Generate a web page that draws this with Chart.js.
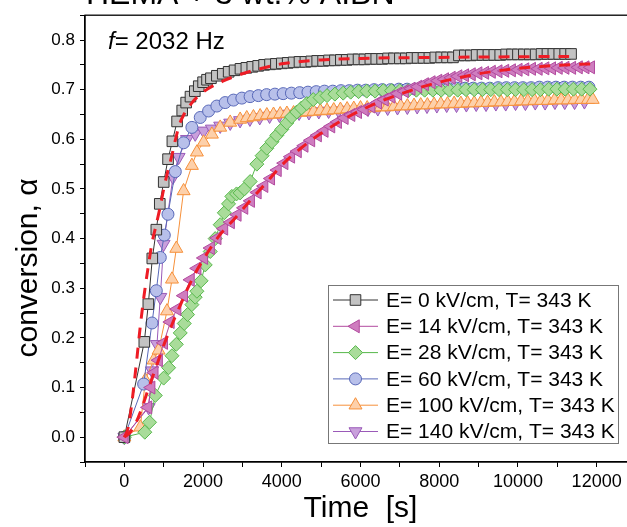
<!DOCTYPE html>
<html>
<head>
<meta charset="utf-8">
<script src="https://cdn.jsdelivr.net/npm/chart.js@4.4.0/dist/chart.umd.min.js"></script>
<style>
  html, body { margin: 0; padding: 0; background: #fff; overflow: hidden; }
  #wrap { width: 650px; height: 527px; }
</style>
</head>
<body>
<div id="wrap"><canvas id="conv" width="650" height="527"></canvas></div>
<script>
// E = 0 kV/cm
const tE0 = [0, 507, 609, 710, 812, 900, 1000, 1110, 1220, 1340, 1470, 1570, 1680, 1790, 1890, 2000, 2100,
  2200, 2350, 2500, 2650, 2800, 2950, 3100, 3250, 3400, 3550, 3700, 3850, 4000, 4150, 4300, 4450, 4600, 4750,
  4900, 5050, 5200, 5350, 5500, 5650, 5800, 5950, 6100, 6250, 6400, 6550, 6700, 6850, 7000, 7150, 7300, 7450,
  7600, 7750, 7900, 8050, 8200, 8350, 8500, 8650, 8800, 8950, 9100, 9250, 9400, 9550, 9700, 9850, 10000,
  10150, 10300, 10450, 10600, 10750, 10900, 11050, 11200, 11350];
const aE0 = [0, 0.192, 0.268, 0.36, 0.418, 0.47, 0.514, 0.56, 0.596, 0.636, 0.658, 0.674, 0.686, 0.697, 0.707, 0.715, 0.72,
  0.723, 0.728, 0.732, 0.736, 0.739, 0.742, 0.744, 0.746, 0.748, 0.750, 0.751, 0.752, 0.753, 0.754, 0.755, 0.756, 0.756, 0.757,
  0.758, 0.758, 0.759, 0.759, 0.760, 0.760, 0.761, 0.761, 0.761, 0.762, 0.762, 0.762, 0.763, 0.763, 0.763, 0.763, 0.764, 0.764,
  0.764, 0.764, 0.765, 0.765, 0.765, 0.765, 0.769, 0.769, 0.769, 0.770, 0.770, 0.770, 0.770, 0.770, 0.771, 0.771, 0.771,
  0.771, 0.771, 0.771, 0.772, 0.772, 0.772, 0.772, 0.772, 0.772];

// E = 14 kV/cm
const tE14 = [0, 600, 680, 760, 870, 1000, 1170, 1340, 1510, 1680, 1850, 2020, 2190, 2360, 2530, 2700, 2870, 3040,
  3210, 3380, 3550, 3720, 3890, 4060, 4230, 4400, 4570, 4740, 4910, 5080, 5250, 5420, 5590, 5760, 5930, 6100,
  6270, 6440, 6610, 6780, 6950, 7120, 7290, 7460, 7630, 7800, 7970, 8140, 8310, 8480, 8650, 8820, 8990, 9160,
  9330, 9500, 9670, 9840, 10010, 10180, 10350, 10520, 10690, 10860, 11030, 11200, 11370, 11540, 11710, 11850];
const aE14 = [0, 0.06, 0.10, 0.13, 0.155, 0.190, 0.232, 0.258, 0.285, 0.317, 0.340, 0.361, 0.381, 0.401, 0.420, 0.433, 0.448, 0.462,
  0.476, 0.493, 0.506, 0.521, 0.538, 0.552, 0.565, 0.576, 0.587, 0.598, 0.608, 0.617, 0.626, 0.635, 0.643, 0.649, 0.655, 0.660,
  0.666, 0.674, 0.680, 0.686, 0.692, 0.697, 0.702, 0.706, 0.711, 0.715, 0.718, 0.721, 0.724, 0.727, 0.729, 0.731, 0.733, 0.734,
  0.736, 0.737, 0.738, 0.739, 0.740, 0.741, 0.742, 0.742, 0.743, 0.743, 0.744, 0.744, 0.744, 0.745, 0.745, 0.745];

// E = 28 kV/cm
const tE28 = [0, 520, 640, 786, 998, 1125, 1210, 1320, 1420, 1522, 1606, 1716, 1800, 1843, 1950, 2055, 2182, 2308, 2435,
  2540, 2647, 2731, 2850, 2942, 3050, 3197, 3366, 3500, 3620, 3750, 3874, 4000, 4128, 4250, 4381, 4500, 4635, 4800,
  4973, 5150, 5350, 5560, 5750, 5950, 6157, 6370, 6580, 6790, 7000, 7210, 7420, 7630, 7840, 8050, 8260, 8470,
  8680, 8890, 9100, 9310, 9520, 9730, 9940, 10150, 10360, 10570, 10780, 10990, 11200, 11410, 11620, 11830];
const aE28 = [0, 0.01, 0.03, 0.084, 0.119, 0.14, 0.164, 0.187, 0.21, 0.229, 0.247, 0.267, 0.282, 0.294, 0.315, 0.347, 0.374, 0.40, 0.428,
  0.452, 0.47, 0.485, 0.49, 0.492, 0.50, 0.515, 0.55, 0.567, 0.582, 0.595, 0.608, 0.62, 0.633, 0.645, 0.655, 0.663, 0.672, 0.68,
  0.684, 0.688, 0.691, 0.693, 0.695, 0.696, 0.697, 0.697, 0.698, 0.698, 0.698, 0.698, 0.699, 0.699, 0.699, 0.699, 0.699, 0.699,
  0.700, 0.700, 0.700, 0.700, 0.700, 0.700, 0.700, 0.700, 0.700, 0.700, 0.701, 0.701, 0.701, 0.701, 0.701, 0.701];

// E = 60 kV/cm
const tE60 = [0, 490, 702, 812, 913, 1015, 1108, 1294, 1505, 1716, 1928, 2140, 2350, 2562, 2773, 2985, 3195, 3405, 3615,
  3825, 4035, 4245, 4455, 4665, 4875, 5085, 5295, 5505, 5715, 5925, 6135, 6345, 6555, 6765, 6975, 7185, 7395,
  7605, 7815, 8025, 8235, 8445, 8655, 8865, 9075, 9285, 9495, 9705, 9915, 10125, 10335, 10545, 10755, 10965,
  11175, 11385, 11595, 11805];
const aE60 = [0, 0.107, 0.23, 0.295, 0.362, 0.407, 0.449, 0.535, 0.593, 0.624, 0.644, 0.657, 0.667, 0.674, 0.679, 0.683, 0.686, 0.688, 0.690,
  0.691, 0.692, 0.693, 0.694, 0.695, 0.696, 0.697, 0.697, 0.698, 0.698, 0.699, 0.699, 0.700, 0.700, 0.700, 0.701, 0.701, 0.701,
  0.702, 0.702, 0.702, 0.702, 0.703, 0.703, 0.703, 0.703, 0.703, 0.704, 0.704, 0.704, 0.704, 0.704, 0.705, 0.705, 0.705,
  0.705, 0.705, 0.705, 0.705];

// E = 100 kV/cm
const tE100 = [0, 406, 533, 744, 870, 1083, 1210, 1320, 1505, 1716, 1843, 2013, 2224, 2435, 2689, 2942, 3110, 3280, 3450,
  3620, 3790, 3960, 4130, 4300, 4470, 4640, 4810, 4980, 5150, 5320, 5490, 5660, 5830, 6000, 6170, 6340, 6510,
  6680, 6850, 7020, 7190, 7360, 7530, 7700, 7870, 8040, 8210, 8380, 8550, 8720, 8890, 9060, 9230, 9400, 9570,
  9740, 9910, 10080, 10250, 10420, 10590, 10760, 10930, 11100, 11270, 11440, 11610, 11780, 11900];
const aE100 = [0, 0.02, 0.115, 0.155, 0.175, 0.254, 0.318, 0.38, 0.496, 0.547, 0.574, 0.594, 0.61, 0.624, 0.634, 0.640, 0.643, 0.645, 0.647,
  0.649, 0.650, 0.651, 0.652, 0.653, 0.654, 0.655, 0.656, 0.657, 0.658, 0.659, 0.660, 0.661, 0.662, 0.663, 0.663, 0.664, 0.665,
  0.665, 0.666, 0.667, 0.667, 0.668, 0.669, 0.669, 0.670, 0.671, 0.671, 0.672, 0.672, 0.673, 0.673, 0.674, 0.674, 0.675, 0.675,
  0.676, 0.676, 0.677, 0.677, 0.678, 0.678, 0.678, 0.679, 0.679, 0.679, 0.680, 0.680, 0.680, 0.680];

// E = 140 kV/cm
const tE140 = [0, 617, 702, 829, 913, 997, 1235, 1378, 1590, 1800, 2013, 2224, 2435, 2690, 2940, 3190, 3440, 3690, 3940,
  4190, 4440, 4690, 4940, 5190, 5440, 5690, 5940, 6190, 6440, 6690, 6940, 7190, 7440, 7690, 7940, 8190, 8440,
  8690, 8940, 9190, 9440, 9690, 9940, 10190, 10440, 10690, 10940, 11190, 11440, 11690];
const aE140 = [0, 0.06, 0.134, 0.187, 0.282, 0.389, 0.524, 0.564, 0.60, 0.611, 0.617, 0.621, 0.627, 0.633, 0.638, 0.641, 0.644, 0.647, 0.649,
  0.651, 0.653, 0.654, 0.656, 0.657, 0.658, 0.659, 0.660, 0.661, 0.662, 0.663, 0.664, 0.665, 0.666, 0.667, 0.668, 0.669, 0.669,
  0.670, 0.671, 0.671, 0.672, 0.672, 0.673, 0.673, 0.674, 0.674, 0.675, 0.675, 0.675, 0.676];

// red dashed fits
const tFit0 = [0, 100, 200, 300, 400, 500, 600, 700, 800, 900, 1000, 1100, 1200, 1300, 1400, 1500, 1700, 2000, 2500,
  3000, 3500, 4000, 5000, 6000, 8000, 11300];
const aFit0 = [0, 0.02, 0.075, 0.145, 0.22, 0.285, 0.34, 0.39, 0.425, 0.46, 0.50, 0.535, 0.565, 0.60, 0.63, 0.648, 0.672, 0.695, 0.717,
  0.732, 0.743, 0.752, 0.760, 0.763, 0.765, 0.767];
const tFit14 = [0, 150, 300, 450, 600, 800, 1000, 1200, 1400, 1600, 1800, 2000, 2400, 2800, 3200, 3600, 4000, 4500, 5000,
  5500, 6000, 6500, 7000, 7500, 8000, 8500, 9000, 9500, 10000, 10500, 11000, 11500, 11900];
const aFit14 = [0, 0.01, 0.03, 0.06, 0.095, 0.14, 0.185, 0.225, 0.262, 0.298, 0.33, 0.357, 0.405, 0.44, 0.477, 0.512, 0.548, 0.583, 0.612,
  0.637, 0.658, 0.676, 0.691, 0.704, 0.715, 0.724, 0.732, 0.738, 0.743, 0.746, 0.749, 0.751, 0.752];

const seriesLabels = ["E= 0 kV/cm, T= 343 K", "E= 14 kV/cm, T= 343 K", "E= 28 kV/cm, T= 343 K",
  "E= 60 kV/cm, T= 343 K", "E= 100 kV/cm, T= 343 K", "E= 140 kV/cm, T= 343 K"];
const titleText = "HEMA + 3 wt.% AIBN";
const freqText = "= 2032 Hz";
const yTitle = "conversion, \u03b1";

const FONT = "'Liberation Sans', Arial, sans-serif";

const pts = (t, a) => t.map((v, i) => ({ x: v, y: a[i] }));

function series(label, t, a, style, rot, radius, fill, edge, order) {
  return {
    label: label,
    data: pts(t, a),
    pointStyle: style,
    rotation: rot,
    pointRadius: radius,
    pointBackgroundColor: fill,
    pointBorderColor: edge,
    pointBorderWidth: 1,
    borderColor: edge,
    borderWidth: 1,
    showLine: true,
    order: order
  };
}

function fit(t, a) {
  return {
    label: "fit",
    data: pts(t, a),
    borderColor: "#ee1c25",
    borderWidth: 3,
    borderDash: [11, 9],
    pointRadius: 0,
    cubicInterpolationMode: "monotone",
    order: 0
  };
}

const datasets = [
  series(seriesLabels[0], tE0, aE0, "rect", 0, 7.5, "#c3c3c3", "#333333", 2),
  series(seriesLabels[1], tE14, aE14, "triangle", 270, 7.5, "#cf7dbf", "#b24a9f", 1),
  series(seriesLabels[2], tE28, aE28, "rectRot", 0, 7, "#a9dc9a", "#57b84b", 3),
  series(seriesLabels[3], tE60, aE60, "circle", 0, 6, "#b8c0ea", "#5868b8", 4),
  series(seriesLabels[4], tE100, aE100, "triangle", 0, 7.5, "#fdd0aa", "#f6903a", 5),
  series(seriesLabels[5], tE140, aE140, "triangle", 180, 7.5, "#c9a0dc", "#9a5ab8", 6),
  fit(tFit0, aFit0),
  fit(tFit14, aFit14)
];

function drawMarker(ctx, ds, x, y) {
  const r = ds.pointRadius;
  ctx.fillStyle = ds.pointBackgroundColor;
  ctx.strokeStyle = ds.pointBorderColor;
  ctx.lineWidth = 1;
  ctx.beginPath();
  if (ds.pointStyle === "circle") {
    ctx.arc(x, y, r, 0, Math.PI * 2);
  } else if (ds.pointStyle === "rect") {
    const s = r * Math.SQRT1_2;
    ctx.rect(x - s, y - s, 2 * s, 2 * s);
  } else if (ds.pointStyle === "rectRot") {
    ctx.moveTo(x, y - r); ctx.lineTo(x + r, y); ctx.lineTo(x, y + r); ctx.lineTo(x - r, y);
  } else {
    let rad = ds.rotation * Math.PI / 180;
    ctx.moveTo(x + Math.sin(rad) * r, y - Math.cos(rad) * r);
    for (let k = 0; k < 2; k++) {
      rad += 2 * Math.PI / 3;
      ctx.lineTo(x + Math.sin(rad) * r, y - Math.cos(rad) * r);
    }
  }
  ctx.closePath();
  ctx.fill();
  ctx.stroke();
}

const extras = {
  id: "extras",
  afterDraw(chart) {
    const ctx = chart.ctx;
    const a = chart.chartArea;
    ctx.save();
    // frame
    ctx.strokeStyle = "#000";
    ctx.lineWidth = 1.3;
    ctx.strokeRect(a.left, a.top, a.right - a.left, a.bottom - a.top);

    // clipped title
    ctx.fillStyle = "#000";
    ctx.font = "32px " + FONT;
    ctx.textBaseline = "alphabetic";
    ctx.textAlign = "left";
    ctx.fillText(titleText, 86, 4);

    // y axis title
    ctx.save();
    ctx.translate(29, 268);
    ctx.rotate(-Math.PI / 2);
    ctx.font = "30px " + FONT;
    ctx.textAlign = "center";
    ctx.textBaseline = "middle";
    ctx.fillText(yTitle, 0, 0);
    ctx.restore();

    // frequency note
    ctx.font = "italic 24px " + FONT;
    ctx.fillText("f", 108, 49);
    const fw = ctx.measureText("f").width;
    ctx.font = "24px " + FONT;
    ctx.fillText(freqText, 108 + fw, 49);

    // legend box
    const bx = 328.5, by = 285.5, bw = 290, bh = 158;
    ctx.fillStyle = "#fff";
    ctx.fillRect(bx, by, bw, bh);
    ctx.strokeStyle = "#777";
    ctx.lineWidth = 1;
    ctx.strokeRect(bx, by, bw, bh);
    ctx.font = "21px " + FONT;
    ctx.textBaseline = "middle";
    for (let i = 0; i < 6; i++) {
      const ds = chart.data.datasets[i];
      const y = 300 + i * 26.3;
      ctx.strokeStyle = ds.borderColor;
      ctx.lineWidth = 1;
      ctx.beginPath();
      ctx.moveTo(333, y);
      ctx.lineTo(378, y);
      ctx.stroke();
      drawMarker(ctx, ds, 355.5, y);
      ctx.fillStyle = "#000";
      ctx.fillText(ds.label, 386, y + 1);
    }
    ctx.restore();
  }
};

new Chart(document.getElementById("conv"), {
  type: "line",
  data: { datasets: datasets },
  options: {
    responsive: false,
    animation: false,
    layout: { padding: { top: 12, right: 14, left: 0, bottom: 0 } },
    plugins: { legend: { display: false }, tooltip: { enabled: false } },
    scales: {
      x: {
        type: "linear",
        min: -1000,
        max: 13000,
        afterFit: (s) => { s.height = 65; },
        border: { display: true, color: "#000", width: 1.3 },
        grid: { drawOnChartArea: false, drawTicks: true, tickLength: 5, color: "#000" },
        ticks: {
          stepSize: 1000,
          autoSkip: false,
          maxRotation: 0,
          color: "#000",
          padding: 4,
          font: { family: FONT, size: 18 },
          callback: (v) => (v >= 0 && v % 2000 === 0 && v <= 12000) ? String(v) : ""
        },
        title: {
          display: true,
          text: "Time  [s]",
          color: "#000",
          font: { family: FONT, size: 30 },
          padding: { top: 0, bottom: 0 }
        }
      },
      y: {
        min: -0.05,
        max: 0.85,
        afterFit: (s) => { s.width = 85; },
        border: { display: true, color: "#000", width: 1.3 },
        grid: { drawOnChartArea: false, drawTicks: true, tickLength: 5, color: "#000" },
        ticks: {
          stepSize: 0.05,
          autoSkip: false,
          color: "#000",
          padding: 5,
          font: { family: FONT, size: 17 },
          callback: (v) => {
            const k = Math.round(v * 100);
            return (k >= 0 && k % 10 === 0) ? (k / 100).toFixed(1) : "";
          }
        }
      }
    }
  },
  plugins: [extras]
});
</script>
</body>
</html>
